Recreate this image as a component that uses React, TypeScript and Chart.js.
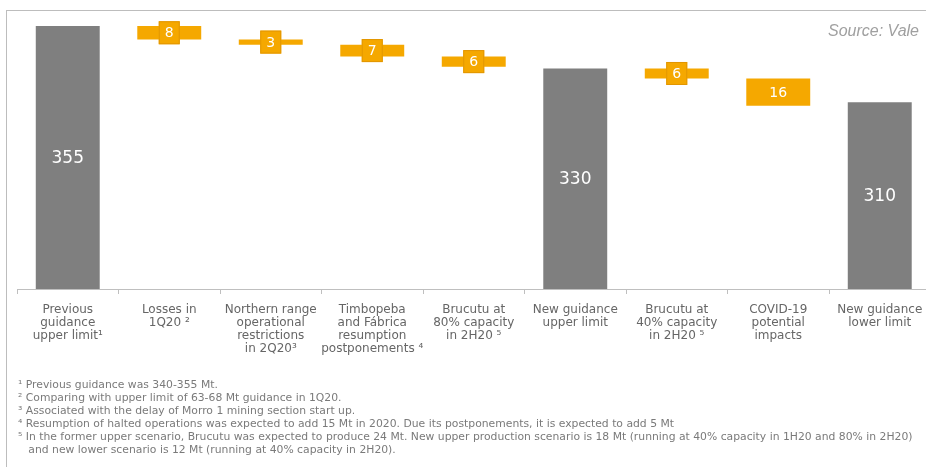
import React, { useEffect, useRef } from 'react';
import { Chart, registerables } from 'chart.js';

Chart.register(...registerables);

const categories: string[][] = [
  ['Previous', 'guidance', 'upper limit¹'],
  ['Losses in', '1Q20 ²'],
  ['Northern range', 'operational', 'restrictions', 'in 2Q20³'],
  ['Timbopeba', 'and Fábrica', 'resumption', 'postponements ⁴'],
  ['Brucutu at', '80% capacity', 'in 2H20 ⁵'],
  ['New guidance', 'upper limit'],
  ['Brucutu at', '40% capacity', 'in 2H20 ⁵'],
  ['COVID-19', 'potential', 'impacts'],
  ['New guidance', 'lower limit'],
];
const stepKinds = ['total', 'delta', 'delta', 'delta', 'delta', 'total', 'delta', 'delta', 'total'];
const stepValues = [355, 8, 3, 7, 6, 330, 6, 16, 310];
const yMin = 200;
const yMax = 365;
const sourceText = 'Source: Vale';
const footnotes = [
  '¹ Previous guidance was 340-355 Mt.',
  '² Comparing with upper limit of 63-68 Mt guidance in 1Q20.',
  '³ Associated with the delay of Morro 1 mining section start up.',
  '⁴ Resumption of halted operations was expected to add 15 Mt in 2020. Due its postponements, it is expected to add 5 Mt',
  '⁵ In the former upper scenario, Brucutu was expected to produce 24 Mt. New upper production scenario is 18 Mt (running at 40% capacity in 1H20 and 80% in 2H20)',
  '   and new lower scenario is 12 Mt (running at 40% capacity in 2H20).',
];

const GREY = '#7F7F7F';
const ORANGE = '#F5A800';
const ORANGE_EDGE = '#E29600';
const AXIS = '#BFBFBF';

export default function App() {
  const ref = useRef<HTMLCanvasElement>(null);

  useEffect(() => {
    if (!ref.current) return;
    let running = 0;
    const data: any[] = stepValues.map((v, i) => {
      if (stepKinds[i] === 'total') {
        running = v;
        return v;
      }
      const d = [running - v, running];
      running -= v;
      return d;
    });

    const labelPlugin = {
      id: 'wfLabels',
      afterDatasetsDraw(chart: any) {
        const ctx = chart.ctx;
        const area = chart.chartArea;
        const meta = chart.getDatasetMeta(0);
        meta.data.forEach((bar: any, i: number) => {
          const p = bar.getProps(['x', 'y', 'base', 'width'], true);
          const bottom = Math.min(p.base, area.bottom);
          const mid = (p.y + bottom) / 2;
          ctx.save();
          if (stepKinds[i] === 'total') {
            ctx.fillStyle = '#FFFFFF';
            ctx.font = '17px "DejaVu Sans"';
            ctx.textAlign = 'center';
            ctx.textBaseline = 'middle';
            ctx.fillText(String(stepValues[i]), p.x, mid + 1);
          } else {
            const bw = 21;
            const bh = 23;
            const h = Math.abs(bottom - p.y);
            if (h < bh) {
              ctx.fillStyle = ORANGE;
              ctx.strokeStyle = ORANGE_EDGE;
              ctx.lineWidth = 1;
              ctx.fillRect(p.x - bw / 2, mid - bh / 2, bw, bh);
              ctx.strokeRect(p.x - bw / 2 + 0.5, mid - bh / 2 + 0.5, bw - 1, bh - 1);
            }
            ctx.fillStyle = '#FFFFFF';
            ctx.font = '14px "DejaVu Sans"';
            ctx.textAlign = 'center';
            ctx.textBaseline = 'middle';
            ctx.fillText(String(stepValues[i]), p.x, mid + 1);
          }
          ctx.restore();
        });
        ctx.save();
        ctx.fillStyle = '#A0A0A0';
        ctx.font = 'italic 16px "Liberation Sans"';
        ctx.textAlign = 'left';
        ctx.textBaseline = 'middle';
        ctx.fillText(sourceText, 828, 32);
        ctx.restore();
      },
    };

    const chart = new Chart(ref.current, {
      type: 'bar',
      data: {
        labels: categories,
        datasets: [
          {
            data,
            backgroundColor: stepKinds.map((k) => (k === 'total' ? GREY : ORANGE)),
            borderWidth: 0,
            barPercentage: 0.63,
            categoryPercentage: 1,
          },
        ],
      },
      options: {
        animation: false,
        responsive: true,
        maintainAspectRatio: false,
        layout: { padding: { left: 17, right: 9.5, top: 9, bottom: 0 } },
        plugins: {
          legend: { display: false },
          tooltip: { enabled: false },
        },
        scales: {
          x: {
            offset: true,
            grid: {
              display: true,
              drawOnChartArea: false,
              drawTicks: true,
              tickLength: 5,
              color: AXIS,
              offset: true,
            },
            border: { display: true, color: AXIS, width: 1 },
            ticks: {
              color: '#666666',
              font: { family: '"DejaVu Sans"', size: 12, lineHeight: '13px' },
              padding: 9,
              maxRotation: 0,
              minRotation: 0,
              autoSkip: false,
            },
            afterFit: (scale: any) => {
              scale.height = 178;
            },
          },
          y: {
            display: false,
            min: yMin,
            max: yMax,
          },
        },
      },
      plugins: [labelPlugin],
    });
    return () => chart.destroy();
  }, []);

  return (
    <div
      style={{
        position: 'fixed',
        left: 0,
        top: 0,
        width: 926,
        height: 467,
        overflow: 'hidden',
        background: '#FFFFFF',
      }}
    >
      <div
        style={{
          position: 'absolute',
          left: 6,
          top: 10,
          width: 940,
          height: 470,
          borderTop: '1px solid #BDBDBD',
          borderLeft: '1px solid #BDBDBD',
        }}
      />
      <div style={{ position: 'absolute', left: 0, top: 0, width: 940, height: 467 }}>
        <canvas ref={ref} />
      </div>
      <div
        style={{
          position: 'absolute',
          left: 18,
          top: 378,
          fontFamily: '"DejaVu Sans"',
          fontSize: 10.8,
          lineHeight: '13px',
          color: '#7A7A7A',
          whiteSpace: 'pre',
        }}
      >
        {footnotes.map((f, i) => (
          <div key={i}>{f}</div>
        ))}
      </div>
    </div>
  );
}
